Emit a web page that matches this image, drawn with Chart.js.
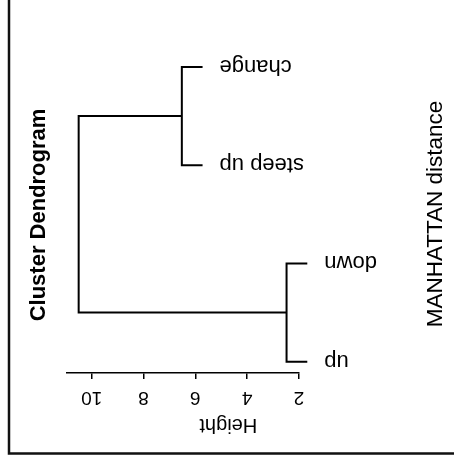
<!DOCTYPE html>
<html>
<head>
<meta charset="utf-8">
<script src="https://cdn.jsdelivr.net/npm/chart.js@4"></script>
<style>
  html, body { margin: 0; padding: 0; background: #fff; }
  #wrap { width: 454px; height: 466px; }
</style>
</head>
<body>
<div id="wrap"><canvas id="dendro"></canvas></div>
<script>
// leaves, top to bottom
const leafLabels = ['change', 'steep up', 'down', 'up'];
const leafPos = [0, 1, 2, 3];
const leafHeights = [5.72, 5.72, 1.68, 1.68];
// merges: [left member pos, right member pos, height]
const mergeA = { from: [0, 1], height: 6.52 };   // change + steep up
const mergeB = { from: [2, 3], height: 2.48 };   // down + up
const rootMerge = { height: 10.5 };
const heightTicks = [2, 4, 6, 8, 10];
const titleText = 'Cluster Dendrogram';
const subText = 'MANHATTAN distance';
const axisText = 'Height';

const midA = (leafPos[mergeA.from[0]] + leafPos[mergeA.from[1]]) / 2;
const midB = (leafPos[mergeB.from[0]] + leafPos[mergeB.from[1]]) / 2;

const seg = (pts) => ({
  data: pts.map(([x, y]) => ({ x, y })),
  showLine: true,
  borderColor: '#000',
  borderWidth: 2,
  pointRadius: 0,
  fill: false,
  clip: false
});

const datasets = [
  seg([[leafHeights[0], leafPos[0]], [mergeA.height, leafPos[0]], [mergeA.height, leafPos[1]], [leafHeights[1], leafPos[1]]]),
  seg([[leafHeights[2], leafPos[2]], [mergeB.height, leafPos[2]], [mergeB.height, leafPos[3]], [leafHeights[3], leafPos[3]]]),
  seg([[mergeA.height, midA], [rootMerge.height, midA], [rootMerge.height, midB], [mergeB.height, midB]])
];

const FONT = '"Liberation Sans", Arial, sans-serif';

// text drawn rotated like the original (whole plot turned on its side)
const textPlugin = {
  id: 'rotText',
  beforeDraw(chart) {
    const ctx = chart.ctx;
    ctx.save();
    ctx.strokeStyle = '#111';
    ctx.lineWidth = 2.5;
    ctx.beginPath();
    ctx.moveTo(9, 0);
    ctx.lineTo(9, 453.5);
    ctx.lineTo(454, 453.5);
    ctx.stroke();
    ctx.restore();
  },
  afterDraw(chart) {
    const { ctx, scales: { x, y } } = chart;
    const put = (txt, px, py, ang, font) => {
      ctx.save();
      ctx.translate(px, py);
      ctx.rotate(ang);
      ctx.font = font;
      ctx.fillStyle = '#000';
      ctx.textAlign = 'center';
      ctx.textBaseline = 'middle';
      ctx.fillText(txt, 0, 0);
      ctx.restore();
    };
    ctx.save();
    ctx.font = '22px ' + FONT;
    leafLabels.forEach((lab, i) => {
      const w = ctx.measureText(lab).width;
      const px = x.getPixelForValue(leafHeights[i]) + 17 + w / 2;
      put(lab, px, y.getPixelForValue(leafPos[i]) - 1, Math.PI, '22px ' + FONT);
    });
    ctx.restore();
    heightTicks.forEach(t => {
      put(String(t), x.getPixelForValue(t), 397, Math.PI, '19px ' + FONT);
    });
    put(axisText, x.getPixelForValue(6) + 33, 425, Math.PI, '20px ' + FONT);
    put(titleText, 39, 215, -Math.PI / 2, 'bold 22px ' + FONT);
    put(subText, 436, 214, -Math.PI / 2, '22.5px ' + FONT);
  }
};

new Chart(document.getElementById('dendro'), {
  type: 'scatter',
  data: { datasets },
  options: {
    responsive: true,
    maintainAspectRatio: false,
    animation: false,
    layout: { padding: { left: 67, right: 155, top: 8, bottom: 87 } },
    plugins: { legend: { display: false }, tooltip: { enabled: false } },
    scales: {
      x: {
        type: 'linear',
        reverse: true,
        min: 2,
        max: 10.95,
        border: { display: true, color: '#000', width: 1.5 },
        grid: { drawOnChartArea: false, drawTicks: true, tickLength: 6, color: '#000', lineWidth: 1.5 },
        ticks: { display: false, stepSize: 2, includeBounds: false }
      },
      y: {
        type: 'linear',
        display: false,
        reverse: true,
        min: -0.6,
        max: 3.115
      }
    }
  },
  plugins: [textPlugin]
});
</script>
</body>
</html>
